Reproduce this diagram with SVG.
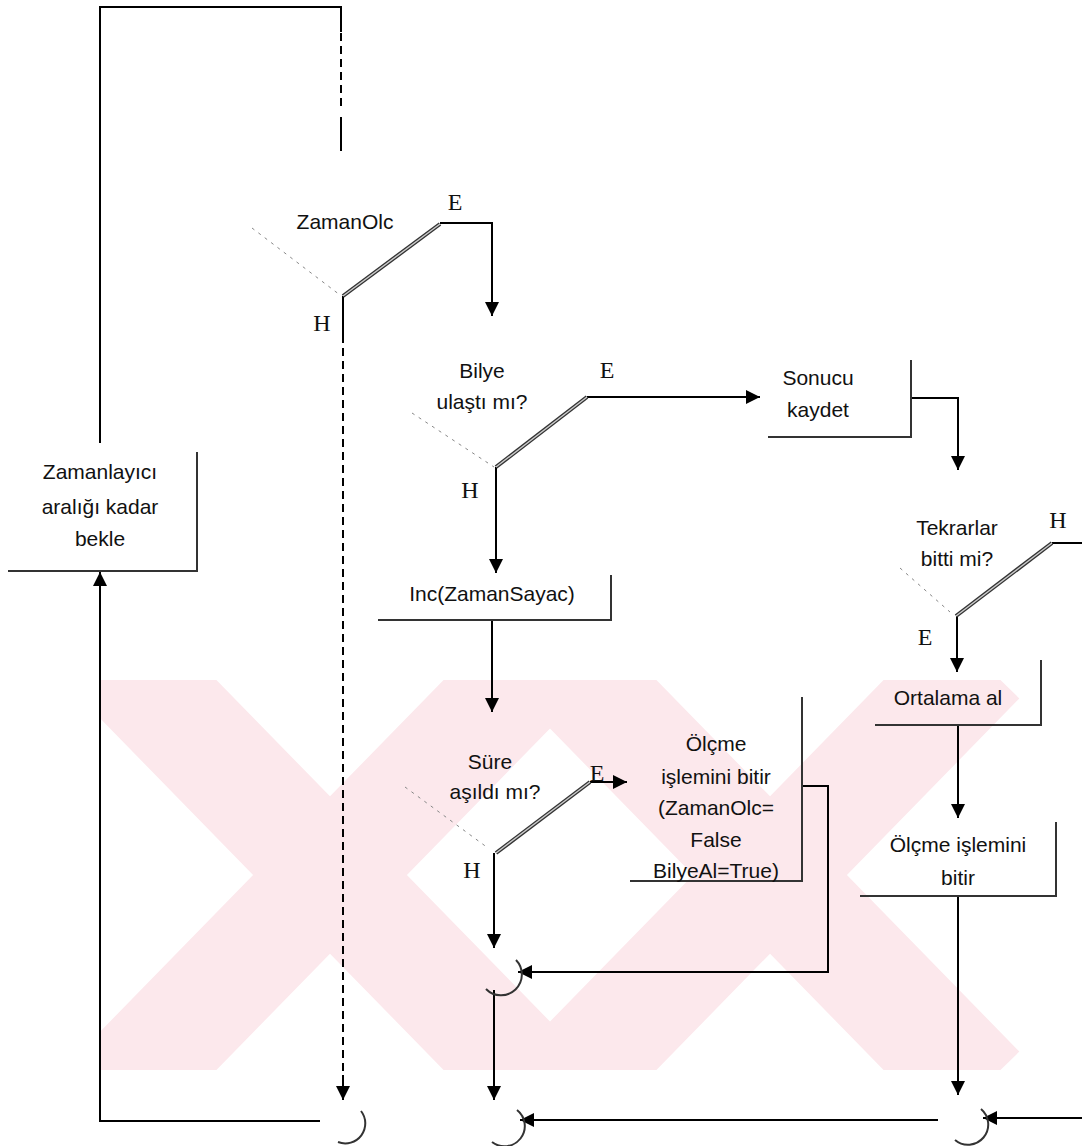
<svg xmlns="http://www.w3.org/2000/svg" width="1082" height="1146" viewBox="0 0 1082 1146">
<defs>
<marker id="ah" viewBox="0 0 10 10" refX="10" refY="5" markerWidth="14" markerHeight="14" markerUnits="userSpaceOnUse" orient="auto">
<path d="M0,0 L10,5 L0,10 z" fill="#000"/>
</marker>
<clipPath id="wmclip"><rect x="100" y="680" width="982" height="390"/></clipPath>
</defs>
<style>
.t{font-family:"Liberation Sans",Arial,sans-serif;font-size:21px;fill:#111;text-anchor:middle}
.l{font-family:"Liberation Serif","Times New Roman",serif;font-size:24px;fill:#111;text-anchor:middle}
.c{fill:none;stroke:#000;stroke-width:2}
.ca{fill:none;stroke:#000;stroke-width:2;marker-end:url(#ah)}
.d{fill:none;stroke:#000;stroke-width:2;stroke-dasharray:8,5}
.dot{fill:none;stroke:#888;stroke-width:1;stroke-dasharray:3,5}
.dbo{fill:none;stroke:#333;stroke-width:4}
.dbi{fill:none;stroke:#ccc;stroke-width:1.4}
.box{fill:none;stroke:#333;stroke-width:2}
.arc{fill:none;stroke:#333;stroke-width:2}
.wm{fill:none;stroke:#fce8ec;stroke-width:110}
</style>
<rect width="1082" height="1146" fill="#fff"/>
<g id="watermark" clip-path="url(#wmclip)">
<path class="wm" d="M120,660 L540,1090 M540,660 L120,1090"/>
<path class="wm" d="M560,660 L980,1090 M980,660 L560,1090"/>
</g>
<g id="connectors">
<path class="c" d="M100,443 V7 H341 V32"/>
<path class="d" d="M341,33 V110"/>
<path class="c" d="M341,117 V151"/>
<path class="ca" d="M440,223 H492 V316"/>
<path class="c" d="M343,296 V335"/>
<path class="d" d="M343,335 V1075"/>
<path class="ca" d="M343,1075 V1100"/>
<path class="ca" d="M587,397 H760"/>
<path class="ca" d="M496,467 V573"/>
<path class="ca" d="M911,398 H958 V470"/>
<path class="c" d="M1052,543 H1082"/>
<path class="ca" d="M957,616 V672"/>
<path class="ca" d="M958,725 V818"/>
<path class="ca" d="M958,896 V1095"/>
<path class="ca" d="M492,620 V712"/>
<path class="ca" d="M590,782 H627"/>
<path class="ca" d="M494,853 V948"/>
<path class="ca" d="M802,786 H828 V972 H518"/>
<path class="ca" d="M494,990 V1100"/>
<path class="ca" d="M1082,1118 H983"/>
<path class="ca" d="M938,1120 H520"/>
<path class="ca" d="M320,1121 H100 V572"/>
</g>
<g id="n-zamanolc">
<line class="dot" x1="252" y1="228" x2="340" y2="295"/>
<line class="dbo" x1="343" y1="296" x2="440" y2="224"/>
<line class="dbi" x1="343" y1="296" x2="440" y2="224"/>
<text class="t" x="345" y="229">ZamanOlc</text>
<text class="l" x="455" y="210">E</text>
<text class="l" x="322" y="331">H</text>
</g>
<g id="n-bilye">
<line class="dot" x1="412" y1="413" x2="494" y2="467"/>
<line class="dbo" x1="496" y1="467" x2="587" y2="397"/>
<line class="dbi" x1="496" y1="467" x2="587" y2="397"/>
<text class="t" x="482" y="378">Bilye</text>
<text class="t" x="482" y="409">ulaştı mı?</text>
<text class="l" x="607" y="378">E</text>
<text class="l" x="470" y="498">H</text>
</g>
<g id="n-sonucu">
<path class="box" d="M911,360 V437 H768"/>
<text class="t" x="818" y="385">Sonucu</text>
<text class="t" x="818" y="417">kaydet</text>
</g>
<g id="n-tekrar">
<line class="dot" x1="900" y1="568" x2="950" y2="612"/>
<line class="dbo" x1="956" y1="616" x2="1052" y2="543"/>
<line class="dbi" x1="956" y1="616" x2="1052" y2="543"/>
<text class="t" x="957" y="535">Tekrarlar</text>
<text class="t" x="957" y="566">bitti mi?</text>
<text class="l" x="1058" y="528">H</text>
<text class="l" x="925" y="645">E</text>
</g>
<g id="n-ortalama">
<path class="box" d="M1041,660 V725 H875"/>
<text class="t" x="948" y="705">Ortalama al</text>
</g>
<g id="n-olcme2">
<path class="box" d="M1056,822 V896 H860"/>
<text class="t" x="958" y="852">Ölçme işlemini</text>
<text class="t" x="958" y="885">bitir</text>
</g>
<g id="n-inc">
<path class="box" d="M611,575 V620 H378"/>
<text class="t" x="492" y="601">Inc(ZamanSayac)</text>
</g>
<g id="n-sure">
<line class="dot" x1="405" y1="787" x2="488" y2="848"/>
<line class="dbo" x1="496" y1="853" x2="590" y2="782"/>
<line class="dbi" x1="496" y1="853" x2="590" y2="782"/>
<text class="t" x="490" y="769">Süre</text>
<text class="t" x="495" y="799">aşıldı mı?</text>
<text class="l" x="597" y="781">E</text>
<text class="l" x="472" y="878">H</text>
</g>
<g id="n-olcme1">
<path class="box" d="M802,697 V881 H630"/>
<text class="t" x="716" y="751">Ölçme</text>
<text class="t" x="716" y="784">işlemini bitir</text>
<text class="t" x="716" y="815">(ZamanOlc=</text>
<text class="t" x="716" y="847">False</text>
<text class="t" x="716" y="878">BilyeAl=True)</text>
</g>
<g id="n-zamanlayici">
<path class="box" d="M197,452 V571 H8"/>
<text class="t" x="100" y="479">Zamanlayıcı</text>
<text class="t" x="100" y="514">aralığı kadar</text>
<text class="t" x="100" y="546">bekle</text>
</g>
<g id="j1"><path class="arc" d="M516,960 A20,20 0 0 1 486,989"/></g>
<g id="j2"><path class="arc" d="M361,1111 A20,20 0 0 1 338,1142"/></g>
<g id="j3"><path class="arc" d="M517,1110 A20,20 0 0 1 492,1142"/></g>
<g id="j4"><path class="arc" d="M981,1109 A20,20 0 0 1 955,1140"/></g>
</svg>
